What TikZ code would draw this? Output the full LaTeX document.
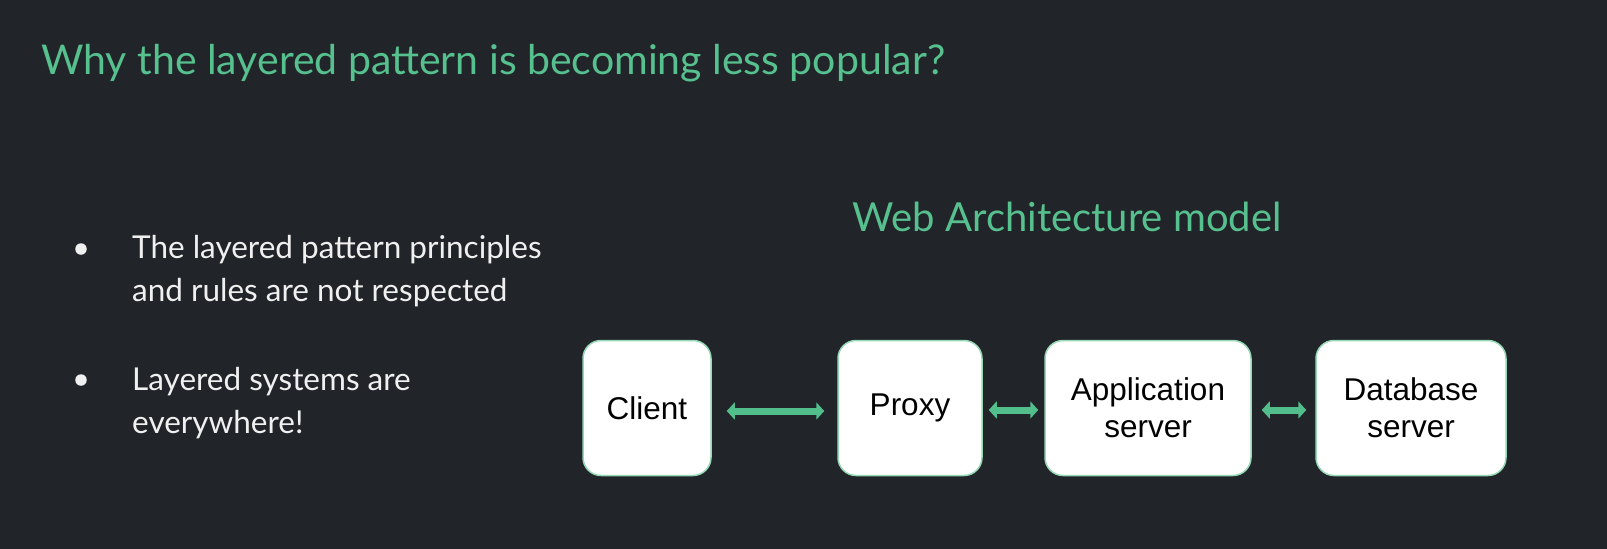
\documentclass[tikz,border=0pt]{standalone}
\usepackage{fontspec}
\setmainfont{Lato}
\newfontfamily\boxfont{Liberation Sans}
\usetikzlibrary{arrows.meta, positioning}
\definecolor{fondSombre}{RGB}{33, 37, 41}
\definecolor{vertTitre}{RGB}{86, 192, 142}
\definecolor{vertFleche}{RGB}{82, 190, 140}
\definecolor{vertBord}{RGB}{150, 215, 180}
\definecolor{blancTexte}{RGB}{240, 240, 240}

\begin{document}
\begin{tikzpicture}[x=1pt, y=-1pt,
  titre/.style={anchor=base west, text=vertTitre,
    font=\fontsize{41}{48}\selectfont, inner sep=0pt},
  couche/.style={rectangle, rounded corners=18pt, draw=vertBord,
    fill=white, line width=1.5pt, minimum height=135pt,
    align=center, font=\boxfont\fontsize{31.5}{37}\selectfont},
  puce/.style={circle, fill=blancTexte, minimum size=11.5pt, inner sep=0pt},
  txt/.style={anchor=base west, text=blancTexte, align=left, inner sep=0pt,
    font=\fontsize{31.5}{43}\selectfont},
  arr/.style={{Triangle[length=8pt, width=17pt]}-{Triangle[length=8pt, width=17pt]},
    line width=7pt, draw=vertFleche},
]
\fill[fondSombre] (0,0) rectangle (1607,549);
\useasboundingbox (0,0) rectangle (1607,549);

\node[titre] (title) at (41,74)
  {Why the layered pattern is becoming less popular?};
\node[titre, anchor=base, font=\fontsize{40}{48}\selectfont] (model)
  at (1067,231) {Web Architecture model};

% bullets (node base = last line)
\node[puce] (p1) at (81,249) {};
\node[txt]  (t1) at (132,301)
  {The layered pattern principles\\and rules are not respected};
\node[puce] (p2) at (81,380) {};
\node[txt]  (t2) at (132,433) {Layered systems are\\everywhere!};

% layers
\node[couche, minimum width=128pt] (client) at (647,408) {Client};
\node[couche, minimum width=144pt] (proxy)  at (910,408) {Proxy};
\node[couche, minimum width=206pt] (app)    at (1148,408)
  {Application\\server};
\node[couche, minimum width=190pt] (db)     at (1411,408)
  {Database\\server};

\draw[arr, shorten <=15pt, shorten >=13pt]
  ([yshift=-3pt]client.east) -- ([yshift=-3pt]proxy.west);
\draw[arr, shorten <=6pt, shorten >=6pt]
  ([yshift=-2pt]proxy.east) -- ([yshift=-2pt]app.west);
\draw[arr, shorten <=10pt, shorten >=9pt]
  ([yshift=-2pt]app.east) -- ([yshift=-2pt]db.west);
\end{tikzpicture}
\end{document}
